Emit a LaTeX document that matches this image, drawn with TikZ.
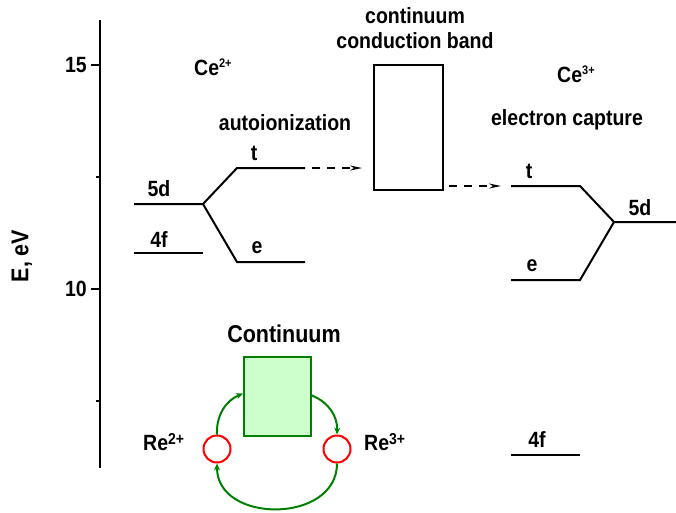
\documentclass[tikz,border=0pt]{standalone}
\usepackage{fontspec}
\usepackage{graphicx}
\setmainfont{Liberation Sans}
\usetikzlibrary{arrows.meta}
\definecolor{dkgreen}{HTML}{008000}
\definecolor{ltgreen}{HTML}{CCFFCC}
\newcommand{\smsup}[1]{\raisebox{7pt}{\fontsize{11}{11}\selectfont #1}}
\newcommand{\bgsup}[1]{\raisebox{6pt}{\fontsize{14}{14}\selectfont #1}}
\newcommand{\tall}[1]{\scalebox{1}[1.13]{#1}}
\begin{document}
\begin{tikzpicture}[x=1pt,y=-1pt,
  lbl/.style={font=\fontsize{19.5}{22}\selectfont\bfseries, inner sep=0pt},
  big/.style={font=\fontsize{21.5}{24}\selectfont\bfseries, inner sep=0pt},
  lvl/.style={line width=2pt},
  dasharr/.style={line width=1.6pt, dash pattern=on 8pt off 7pt, -{Stealth[length=12pt,width=5pt]}},
  garr/.style={dkgreen, line width=2pt, -{Stealth[length=7pt,width=6pt]}},
  ring/.style={circle, draw=red, line width=2pt, minimum size=27pt, inner sep=0pt}]
\useasboundingbox (0,0) rectangle (676,512);
% axis
\draw[line width=2pt] (100,20) -- (100,468);
\draw[line width=1.6pt] (91,65) -- (100,65);
\draw[line width=1.6pt] (96,177) -- (100,177);
\draw[line width=1.6pt] (91,289) -- (100,289);
\draw[line width=1.6pt] (96,401) -- (100,401);
\node[lbl, anchor=east] (t15) at (87,65) {\tall{15}};
\node[lbl, anchor=east] (t10) at (87,289) {\tall{10}};
\node[big, rotate=90] (ylab) at (22,256) {\tall{E, eV}};
% Ce2+
\node[lbl, anchor=west] (ce2) at (194,67) {\tall{Ce\smsup{2+}}};
\node[lbl] (auto) at (285,123) {\tall{autoionization}};
\coordinate (a5dL) at (134,204);
\coordinate (a5dR) at (203,204);
\coordinate (atL) at (237,168);
\coordinate (atR) at (305,168);
\coordinate (aeL) at (237,262);
\coordinate (aeR) at (305,262);
\draw[lvl] (a5dL) -- (a5dR) -- (atL) -- (atR);
\draw[lvl] (a5dR) -- (aeL) -- (aeR);
\draw[lvl] (134,253) -- (203,253);
\node[lbl] (l5d) at (159,189) {\tall{5d}};
\node[lbl] (l4f) at (159,240) {\tall{4f}};
\node[lbl] (lt) at (254,153) {\tall{t}};
\node[lbl] (le) at (257,248) {\tall{e}};
% conduction band
\node[draw, line width=1.6pt, minimum width=69pt, minimum height=125pt, inner sep=0pt] (cb) at (408.5,127.5) {};
\node[lbl] (cont1) at (415,16) {\tall{continuum}};
\node[lbl] (cont2) at (415,41) {\tall{conduction band}};
\coordinate (d1s) at (312,168);
\coordinate (d1e) at (362,168);
\draw[dasharr] (d1s) -- (d1e);
\coordinate (d2s) at (449,186);
\coordinate (d2e) at (501,186);
\draw[dasharr] (d2s) -- (d2e);
% Ce3+
\node[lbl, anchor=west] (ce3) at (557,74) {\tall{Ce\smsup{3+}}};
\node[lbl] (ecap) at (567,120) {\tall{electron capture}};
\coordinate (btL) at (511,186);
\coordinate (btR) at (580,186);
\coordinate (bm) at (614,222);
\coordinate (bmR) at (676,222);
\coordinate (beL) at (511,280);
\coordinate (beR) at (580,280);
\draw[lvl] (btL) -- (btR) -- (bm) -- (bmR);
\draw[lvl] (beL) -- (beR) -- (bm);
\node[lbl] (rt) at (529,171) {\tall{t}};
\node[lbl] (re) at (532,266) {\tall{e}};
\node[lbl] (r5d) at (640,208) {\tall{5d}};
\draw[lvl] (511,455) -- (580,455);
\node[lbl] (r4f) at (537,440) {\tall{4f}};
% Continuum cycle
\node[big] (contl) at (284,334) {\tall{Continuum}};
\node[draw=dkgreen, fill=ltgreen, line width=2pt, minimum width=67pt, minimum height=79pt, inner sep=0pt] (gbox) at (277.5,396.5) {};
\node[ring] (c1) at (217,449) {};
\node[ring] (c2) at (337,449) {};
\node[lbl, anchor=west] (re2) at (143,442) {\tall{Re\bgsup{2+}}};
\node[lbl, anchor=west] (re3) at (364,442) {\tall{Re\bgsup{3+}}};
\draw[garr] (c1.north) to[bend left=35] ([yshift=3pt]gbox.west);
\draw[garr] ([yshift=1pt]gbox.east) to[bend left=35] (c2.north);
\draw[garr] (c2.south) .. controls (337,524) and (217,524) .. (c1.south);
\end{tikzpicture}
\end{document}
